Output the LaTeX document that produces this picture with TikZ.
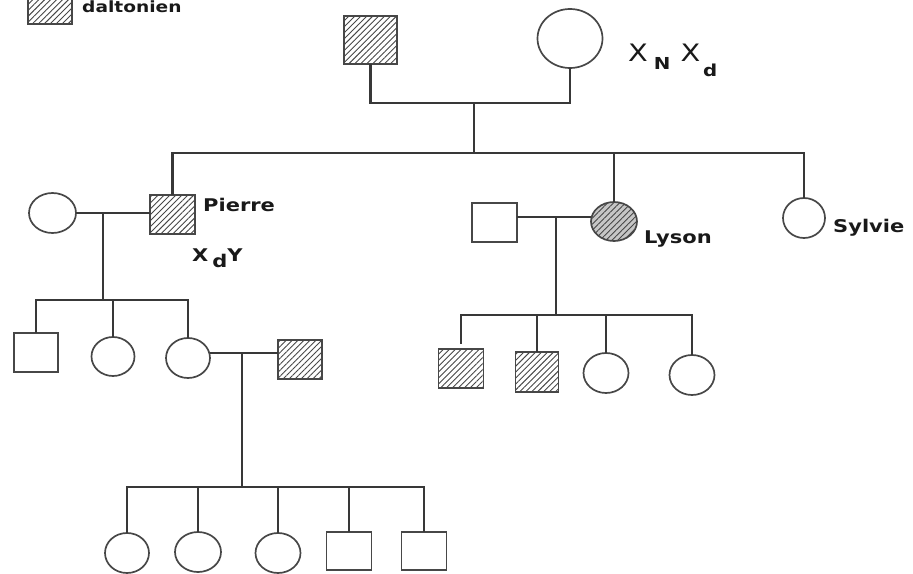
\documentclass[tikz,border=0pt]{standalone}
\usepackage{fontspec}
\newfontfamily\lbl[FakeStretch=1.2]{DejaVu Sans}
\usetikzlibrary{shapes.geometric,patterns.meta}
\definecolor{ln}{HTML}{383838}
\definecolor{ol}{HTML}{474747}
\begin{document}
\begin{tikzpicture}[x=1pt,y=-1pt,
  sq/.style={draw=ol,line width=1.7pt,rectangle,inner sep=0pt},
  ci/.style={draw=ol,line width=1.7pt,ellipse,inner sep=0pt},
  hat/.style={pattern={Lines[angle=45,distance=4.2pt,line width=0.9pt]},pattern color=ol},
  conn/.style={draw=ln,line width=2.2pt,line cap=rect},
  txt/.style={font={\lbl\bfseries\fontsize{17.5}{20}\selectfont},inner sep=0pt,anchor=base west,text=black!90}]
\useasboundingbox (0,0) rectangle (913,573);
\clip (0,0) rectangle (913,573);
% legend
\node[sq,hat,minimum width=44pt,minimum height=40pt] (leg) at (50,4) {};
\node[txt,font={\lbl\bfseries\fontsize{15.5}{18}\selectfont}] (legt) at (82,12) {daltonien};
% generation 1
\node[sq,hat,minimum width=53pt,minimum height=48pt] (gf) at (370.5,40) {};
\node[ci,minimum width=65pt,minimum height=59pt] (gm) at (570,38.5) {};
\node[txt,font={\lbl\fontsize{24}{26}\selectfont}] (gt) at (628,61) {X\kern6pt\raisebox{-8pt}{\bfseries\fontsize{16.5}{18}\selectfont N}\kern10pt X\kern3pt\raisebox{-15pt}{\bfseries\fontsize{16.5}{18}\selectfont d}};
\coordinate (m1) at (474,103);
\draw[conn] (gf.south) |- (m1) -| (gm.south);
\coordinate (s1) at (474,153);
\draw[conn] (m1) -- (s1);
\coordinate (sl) at (172.5,153);
\coordinate (sr) at (804,153);
\draw[conn] (sl) -- (sr);
% generation 2
\node[ci,minimum width=47pt,minimum height=40pt] (pw) at (52.5,213) {};
\node[sq,hat,minimum width=45pt,minimum height=39pt] (pierre) at (172.5,214.5) {};
\node[txt] (pierret) at (203,211) {Pierre};
\node[txt] (pg) at (192,261) {X\kern4pt\raisebox{-6pt}{d}Y};
\node[sq,minimum width=45pt,minimum height=39pt] (lh) at (494.5,222.5) {};
\node[ci,preaction={fill=gray!45},hat,minimum width=46pt,minimum height=39pt] (lyson) at (614,221.5) {};
\node[txt] (lysont) at (644,243) {Lyson};
\node[ci,minimum width=42pt,minimum height=40pt] (sylvie) at (804,218) {};
\node[txt] (sylviet) at (833,232) {Sylvie};
\draw[conn] (sl) -- (pierre.north);
\draw[conn] (lyson.north |- sl) -- (lyson.north);
\draw[conn] (sr) -- (sylvie.north);
% Pierre family
\coordinate (m2) at (103,213);
\draw[conn] (pw.east) -- (pierre.west |- pw.east);
\coordinate (s2) at (103,300);
\draw[conn] (m2) -- (s2);
\node[sq,minimum width=44pt,minimum height=39pt] (c1) at (36,352.5) {};
\node[ci,minimum width=43pt,minimum height=39pt] (c2) at (113,356.5) {};
\node[ci,minimum width=44pt,minimum height=40pt] (c3) at (188,358) {};
\node[sq,hat,minimum width=44pt,minimum height=39pt] (c3h) at (300,359.5) {};
\draw[conn] (c1.north |- s2) -- (c3.north |- s2);
\draw[conn] (c1.north |- s2) -- (c1.north);
\draw[conn] (c2.north |- s2) -- (c2.north);
\draw[conn] (c3.north |- s2) -- (c3.north);
\coordinate (m3) at (242,353);
\draw[conn] (c3.east |- m3) -- (c3h.west |- m3);
\coordinate (s3) at (242,487);
\draw[conn] (m3) -- (s3);
\node[ci,minimum width=44pt,minimum height=40pt] (g1) at (127,553) {};
\node[ci,minimum width=46pt,minimum height=40pt] (g2) at (198,552) {};
\node[ci,minimum width=45pt,minimum height=40pt] (g3) at (278,553) {};
\node[sq,minimum width=45pt,minimum height=38pt] (g4) at (349,551) {};
\node[sq,minimum width=45pt,minimum height=38pt] (g5) at (424,551) {};
\draw[conn] (g1.north |- s3) -- (g5.north |- s3);
\foreach \g in {g1,g2,g3,g4,g5} \draw[conn] (\g.north |- s3) -- (\g.north);
% Lyson family
\coordinate (m4) at (556,217);
\draw[conn] (lh.east |- m4) -- (lyson.west |- m4);
\coordinate (s4) at (556,315);
\draw[conn] (m4) -- (s4);
\node[sq,hat,minimum width=45pt,minimum height=39pt] (l1) at (461,368.5) {};
\node[sq,hat,minimum width=43pt,minimum height=40pt] (l2) at (537,372) {};
\node[ci,minimum width=45pt,minimum height=40pt] (l3) at (606,373) {};
\node[ci,minimum width=45pt,minimum height=40pt] (l4) at (692,375) {};
\draw[conn] (l1.north |- s4) -- (l4.north |- s4);
\draw[conn] (l1.north |- s4) -- ++(0,28);
\foreach \g in {l2,l3,l4} \draw[conn] (\g.north |- s4) -- (\g.north);
\end{tikzpicture}
\end{document}
